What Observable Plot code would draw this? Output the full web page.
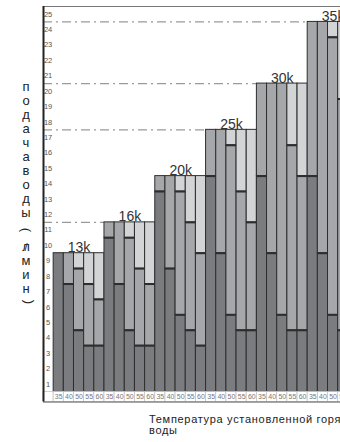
<!DOCTYPE html>
<html><head><meta charset="utf-8">
<script src="https://cdn.jsdelivr.net/npm/d3@7"></script>
<script src="https://cdn.jsdelivr.net/npm/@observablehq/plot@0.6"></script>
<style>
html,body{margin:0;padding:0;background:#fff;overflow:hidden;width:340px;height:442px}
#wrap{position:relative;width:340px;height:442px;overflow:hidden}
#chart{position:absolute;left:0;top:0}
#chart svg{max-width:none !important;height:404px !important}
#ytitle{position:absolute;left:16px;top:80px;width:20px;font:13px "Liberation Sans",Arial,sans-serif;color:#222;text-align:center}
#ytitle span{display:block;height:14px;line-height:14px}
#ytitle span.rot{transform:rotate(90deg)}
#ytitle span.open{height:20px;line-height:20px}
#ytitle span.close{height:12px;line-height:6px}
#ytitle span.thin{height:0;line-height:0;position:relative;top:-7px;font-size:11px}
#xtitle{position:absolute;left:149px;top:414px;width:232px;font:11px/11px "Liberation Sans",Arial,sans-serif;letter-spacing:0.7px;color:#222}
</style></head><body>
<div id="wrap"><div id="chart"></div><div id="ytitle"></div><div id="xtitle"></div></div>
<script>
// ---- data ----
const groups = ["13k","16k","20k","25k","30k","35k"];
const temps = ["35","40","50","55","60"];
const totals = [9,11,14,17,20,24];
const darkTop = [
  [9,7,4,3,3],
  [10,7,4,3,3],
  [13,8,5,4,3],
  [14,9,5,4,4],
  [14,9,5,4,4],
  [14,9,5,4,4]
];
const mediumTop = [
  [9,9,8,7,6],
  [11,11,10,8,7],
  [14,14,13,11,9],
  [17,17,16,13,11],
  [20,20,20,16,14],
  [24,24,23,19,17]
];
const yTicks = d3.range(1, 26);
const guideGroups = ["16k","25k","30k","35k"];
const shades = ["dark","medium","light"];
const shadeColors = ["#7b7c7f","#a6a7aa","#d3d4d6"];
const yTitle = "подачаводы(л/мин)";
const xTitle = "Температура установленной горячей воды";

// ---- derived tables ----
const bars = [];
groups.forEach((g, gi) => temps.forEach((t, ti) => {
  bars.push({g, t, i: 1 + gi * temps.length + ti, dark: darkTop[gi][ti], medium: mediumTop[gi][ti], total: totals[gi]});
}));
const segs = bars.flatMap(b => [
  {i: b.i, y1: 0, y2: b.dark, shade: "dark"},
  {i: b.i, y1: b.dark, y2: b.medium, shade: "medium"},
  {i: b.i, y1: b.medium, y2: b.total, shade: "light"}
].filter(s => s.y2 > s.y1));
const seps = bars.flatMap(b => [...new Set([b.dark, b.medium])].filter(v => v > 0 && v < b.total).map(v => ({i: b.i, y: v})));
const groupRows = groups.map((g, gi) => ({g, start: 1 + gi * temps.length, center: 1 + gi * temps.length + temps.length / 2, total: totals[gi]}));
const guides = groupRows.filter(d => guideGroups.includes(d.g));
const cells = [{i: 0, t: ""}, ...bars];
const nCols = 1 + groups.length * temps.length;
const rowBottom = -0.65;
const yMax = d3.max(yTicks);

const chart = Plot.plot({
  width: 358, height: 404,
  marginLeft: 43, marginRight: 0, marginTop: 6, marginBottom: 2.5,
  x: {domain: [0, nCols], axis: null},
  y: {domain: [rowBottom, yMax], axis: null},
  color: {domain: shades, range: shadeColors},
  style: {fontFamily: "'Liberation Sans', Arial, sans-serif", background: "#fff", overflow: "visible", maxWidth: "none"},
  marks: [
    Plot.ruleY(guides, {x1: () => 0, x2: "start", y: "total", stroke: "#9a9a9a", strokeWidth: 1.2, strokeDasharray: "9,4,2,4"}),
    Plot.rect(segs, {x1: "i", x2: d => d.i + 1, y1: "y1", y2: "y2", fill: "shade", stroke: "#2e2e2e", strokeWidth: 1}),
    Plot.ruleY(seps, {x1: "i", x2: d => d.i + 1, y: "y", stroke: "#2e2e2e", strokeWidth: 2}),
    Plot.text(groupRows, {x: "center", y: "total", text: "g", dy: -1, lineAnchor: "bottom", fontSize: 14, fill: "#333"}),
    Plot.text(yTicks, {x: () => 0.45, y: d => d - 0.5, text: d => String(d), fontSize: 7.5, fill: "#555"}),
    Plot.rect(cells, {x1: "i", x2: d => d.i + 1, y1: () => rowBottom, y2: () => 0, fill: "#fff", stroke: "#c4c4c4", strokeWidth: 0.8}),
    Plot.text(bars, {x: d => d.i + 0.5, y: () => rowBottom / 2, text: "t", fontSize: 7, fill: "#777"}),
    Plot.ruleY([yMax], {x1: () => 0, x2: () => nCols, stroke: "#777", strokeWidth: 1}),
    Plot.ruleY([rowBottom], {x1: () => 0, x2: () => nCols, stroke: "#888", strokeWidth: 1.5}),
    Plot.ruleX([0], {y1: () => rowBottom, y2: () => yMax, stroke: "#222", strokeWidth: 2})
  ]
});
document.getElementById("chart").appendChild(chart);

// vertical y title, letters stacked upright
const yt = document.getElementById("ytitle");
for (const ch of yTitle) {
  const s = document.createElement("span");
  s.textContent = ch;
  if (ch === "(") s.className = "rot open";
  else if (ch === ")") s.className = "rot close";
  else if (ch === "/") s.className = "thin";
  yt.appendChild(s);
}
document.getElementById("xtitle").textContent = xTitle;
</script>
</body></html>
